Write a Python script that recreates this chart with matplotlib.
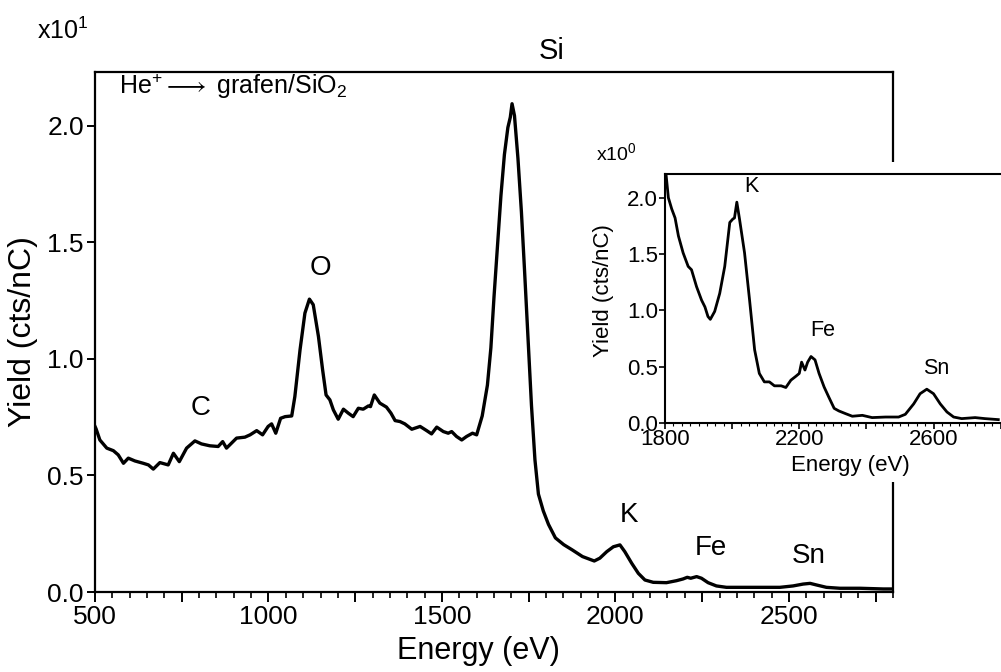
import numpy as np
import matplotlib
matplotlib.use('Agg')
import matplotlib.pyplot as plt
from matplotlib.ticker import MultipleLocator, FuncFormatter
from matplotlib.patches import Rectangle

plt.rcParams['font.family'] = ['Liberation Sans', 'DejaVu Sans']
plt.rcParams['mathtext.fontset'] = 'custom'
plt.rcParams['mathtext.rm'] = 'Liberation Sans'
plt.rcParams['mathtext.it'] = 'Liberation Sans'
plt.rcParams['mathtext.fallback'] = 'stix'

# widmo glowne (x10^1 cts/nC)
energy_main = [500, 503, 514, 534, 553, 567, 582, 596, 615, 639, 654, 668, 687, 711, 726, 743,
               764, 788, 807, 831, 855, 868, 879, 908, 932, 947, 966, 983, 999, 1009, 1021,
               1035, 1048, 1067, 1076, 1091, 1105, 1118, 1129, 1144, 1156, 1166, 1177, 1187,
               1201, 1216, 1230, 1244, 1259, 1273, 1288, 1294, 1305, 1321, 1340, 1353, 1365,
               1379, 1393, 1413, 1437, 1456, 1470, 1485, 1504, 1518, 1528, 1542, 1557, 1571,
               1588, 1600, 1616, 1631, 1641, 1650, 1660, 1670, 1680, 1690, 1697, 1702, 1709,
               1719, 1729, 1738, 1748, 1758, 1768, 1778, 1792, 1807, 1827, 1851, 1875, 1905,
               1939, 1955, 1975, 1994, 2013, 2027, 2047, 2066, 2085, 2109, 2147, 2176, 2195,
               2207, 2217, 2234, 2248, 2267, 2291, 2320, 2387, 2474, 2512, 2541, 2561, 2580,
               2608, 2647, 2705, 2772, 2800]
yield_main = [0.71, 0.70, 0.652, 0.617, 0.606, 0.588, 0.552, 0.574, 0.562, 0.552, 0.545, 0.527,
              0.555, 0.545, 0.595, 0.559, 0.617, 0.648, 0.635, 0.627, 0.624, 0.645, 0.617,
              0.66, 0.664, 0.674, 0.692, 0.674, 0.71, 0.721, 0.681, 0.745, 0.752, 0.755,
              0.838, 1.039, 1.196, 1.256, 1.232, 1.096, 0.953, 0.845, 0.824, 0.781, 0.741,
              0.784, 0.767, 0.752, 0.788, 0.784, 0.798, 0.795, 0.845, 0.81, 0.793, 0.767,
              0.735, 0.731, 0.721, 0.698, 0.71, 0.692, 0.678, 0.707, 0.688, 0.681, 0.688,
              0.667, 0.652, 0.667, 0.681, 0.674, 0.755, 0.887, 1.047, 1.265, 1.483, 1.70,
              1.876, 1.992, 2.036, 2.094, 2.043, 1.86, 1.63, 1.38, 1.09, 0.80, 0.567, 0.42,
              0.348, 0.29, 0.232, 0.203, 0.181, 0.152, 0.133, 0.145, 0.173, 0.194, 0.202,
              0.173, 0.123, 0.08, 0.0515, 0.0415, 0.040, 0.0485, 0.056, 0.063, 0.059, 0.066,
              0.059, 0.040, 0.026, 0.020, 0.020, 0.020, 0.026, 0.034, 0.037, 0.030, 0.020,
              0.016, 0.016, 0.013, 0.013]

# wstawka (x10^0 cts/nC)
energy_inset = [1800, 1810, 1820, 1830, 1840, 1854, 1869, 1879, 1894, 1909, 1919, 1928, 1935,
                1948, 1963, 1978, 1993, 2002, 2007, 2014, 2022, 2037, 2052, 2067, 2081, 2096,
                2111, 2126, 2146, 2160, 2175, 2190, 2200, 2207, 2217, 2225, 2235, 2247, 2259,
                2274, 2288, 2304, 2318, 2338, 2358, 2388, 2417, 2457, 2496, 2516, 2541, 2560,
                2580, 2600, 2620, 2640, 2660, 2684, 2724, 2753, 2793]
yield_inset = [2.3, 2.0, 1.90, 1.82, 1.66, 1.51, 1.39, 1.36, 1.21, 1.09, 1.03, 0.945, 0.92,
               0.99, 1.15, 1.39, 1.78, 1.81, 1.82, 1.96, 1.81, 1.51, 1.09, 0.65, 0.44, 0.365,
               0.365, 0.33, 0.33, 0.315, 0.38, 0.415, 0.44, 0.54, 0.47, 0.54, 0.59, 0.56, 0.44,
               0.32, 0.23, 0.13, 0.107, 0.083, 0.06, 0.068, 0.048, 0.053, 0.053, 0.077, 0.17,
               0.26, 0.30, 0.26, 0.17, 0.098, 0.053, 0.039, 0.048, 0.039, 0.03]

W, H = 1001, 672
fig = plt.figure(figsize=(W / 100, H / 100), dpi=100)

# osie glowne
ax = fig.add_axes([95 / W, 1 - 592 / H, (893 - 95) / W, (592 - 72) / H])
ax.plot(energy_main, yield_main, color='black', lw=2.4)
ax.set_xlim(500, 2800)
ax.set_ylim(0, 2.23)
for s in ax.spines.values():
    s.set_linewidth(1.6)
ax.xaxis.set_major_locator(MultipleLocator(250))
ax.xaxis.set_minor_locator(MultipleLocator(50))
ax.xaxis.set_major_formatter(FuncFormatter(lambda v, p: '%d' % v if v % 500 == 0 else ''))
ax.yaxis.set_major_locator(MultipleLocator(0.5))
ax.yaxis.set_major_formatter(FuncFormatter(lambda v, p: '%.1f' % v))
ax.tick_params(axis='x', which='major', direction='out', length=7, width=1.4, labelsize=19, pad=2)
ax.tick_params(axis='x', which='minor', direction='out', length=4, width=1.2)
ax.tick_params(axis='y', which='major', direction='out', length=6, width=1.4, labelsize=19, pad=2)
ax.set_xlabel('Energy (eV)', fontsize=22)
ax.set_ylabel('Yield (cts/nC)', fontsize=23)
ax.xaxis.set_label_coords(0.48, -0.085)
ax.yaxis.set_label_coords(-0.071, 0.5)

ax.text(0.03, 0.973, r'He$^{+}$$\longrightarrow$ grafen/SiO$_{2}$', fontsize=18, va='center',
        transform=ax.transAxes)
ax.text(1817, 2.32, 'Si', fontsize=21, ha='center', va='center', clip_on=False)
ax.text(1151, 1.39, 'O', fontsize=20, ha='center', va='center')
ax.text(805, 0.79, 'C', fontsize=20, ha='center', va='center')
ax.text(2040, 0.33, 'K', fontsize=20, ha='center', va='center')
ax.text(2274, 0.19, 'Fe', fontsize=20, ha='center', va='center')
ax.text(2557, 0.155, 'Sn', fontsize=20, ha='center', va='center')
fig.text(37 / W, 1 - 31 / H, r'x10$^{1}$', fontsize=18, va='center')

# biale tlo pod wstawka
fig.add_artist(Rectangle((585 / W, 1 - 482 / H), 1 - 585 / W, (482 - 162) / H,
                         transform=fig.transFigure, facecolor='white', edgecolor='none', zorder=2))

# wstawka
ins = fig.add_axes([665 / W, 1 - 423 / H, (1004 - 665) / W, (423 - 174) / H], zorder=3)
ins.plot(energy_inset, yield_inset, color='black', lw=2.0)
ins.set_xlim(1800, 2810)
ins.set_ylim(0, 2.21)
ins.spines['right'].set_visible(False)
for s in ins.spines.values():
    s.set_linewidth(1.5)
ins.xaxis.set_major_locator(MultipleLocator(200))
ins.xaxis.set_minor_locator(MultipleLocator(25))
ins.xaxis.set_major_formatter(FuncFormatter(lambda v, p: '%d' % v if (v - 1800) % 400 == 0 else ''))
ins.yaxis.set_major_locator(MultipleLocator(0.5))
ins.yaxis.set_major_formatter(FuncFormatter(lambda v, p: '%.1f' % v))
ins.tick_params(axis='x', which='major', direction='out', length=4, width=1.2, labelsize=16, pad=0)
ins.tick_params(axis='x', which='minor', direction='out', length=2, width=0.8)
ins.tick_params(axis='y', which='major', direction='out', length=4, width=1.2, labelsize=16, pad=1)
ins.set_xlabel('Energy (eV)', fontsize=16)
ins.set_ylabel('Yield (cts/nC)', fontsize=16)
ins.xaxis.set_label_coords((850 - 665) / (1004 - 665), -0.13)
ins.yaxis.set_label_coords(-0.15, 0.53)
ins.text(2058, 2.1, 'K', fontsize=15.5, ha='center', va='center')
ins.text(2271, 0.82, 'Fe', fontsize=15.5, ha='center', va='center')
ins.text(2609, 0.48, 'Sn', fontsize=15.5, ha='center', va='center')
fig.text(596 / W, 1 - 153 / H, r'x10$^{0}$', fontsize=14, va='center')

fig.savefig('out.png', dpi=100)
